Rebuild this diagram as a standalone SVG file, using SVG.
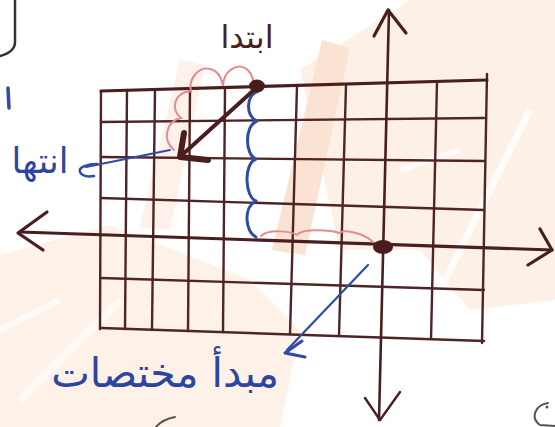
<svg xmlns="http://www.w3.org/2000/svg" width="555" height="427" viewBox="0 0 555 427">
<style>
.g{stroke:#4e2424;stroke-width:2.4;fill:none;stroke-linecap:round}
.ax{stroke:#4a1e1e;stroke-width:3.2;fill:none;stroke-linecap:round;stroke-linejoin:round}
.bl{stroke:#2f4ba8;stroke-width:2.6;fill:none;stroke-linecap:round;stroke-linejoin:round}
.pk{stroke:#e28c92;stroke-width:2;fill:none;stroke-linecap:round}
.tb{font-family:"DejaVu Sans",sans-serif;fill:#2c45a0}
.tk{font-family:"DejaVu Sans",sans-serif;fill:#4a2020}
</style>
<rect width="555" height="427" fill="#ffffff"/>
<g id="watermark">
<polygon points="300,70 410,0 555,0 555,300 470,310 420,250 340,250" fill="#fdf0e6"/>
<polygon points="0,255 110,225 250,280 300,330 280,427 0,427" fill="#fdf1e8"/>
<polygon points="322,40 350,48 305,255 272,250" fill="#fae3d2"/>
<polygon points="180,60 205,65 170,230 140,228" fill="#fcebdf" opacity="0.7"/>
<line x1="440" y1="290" x2="530" y2="110" stroke="#ffffff" stroke-width="7" opacity="0.8"/>
<line x1="400" y1="170" x2="460" y2="150" stroke="#ffffff" stroke-width="6" opacity="0.8"/>
<line x1="20" y1="400" x2="120" y2="300" stroke="#ffffff" stroke-width="7" opacity="0.7"/>
<line x1="0" y1="330" x2="60" y2="300" stroke="#ffffff" stroke-width="6" opacity="0.7"/>
</g>
<g id="grid">
<path class="g" d="M101,122 L484,118 M101,157 L484,161 M101,198 L484,210 M101,278 L484,290 M101,328 L484,341"/>
<path class="g" d="M101,91 L100,329 M127,90 L125,329 M155,89 L152,330 M190,89 L188,331 M225,88 L223,332 M297,86 L290,334 M346,85 L339,336 M437,82 L431,339 M487,74 L482,343"/>
<path class="ax" d="M101,91 L487,80"/>
</g>
<g id="axes">
<path class="ax" d="M20,232 L552,250"/>
<path class="ax" d="M47,212 L18,233 L43,250"/>
<path class="ax" d="M540,229 L552,250 L528,265"/>
<path class="ax" d="M389,10 L379,420" style="stroke-width:2.6"/>
<path class="ax" d="M374,36 L388,10 L406,33"/>
<path class="ax" d="M365,398 L380,420 L400,392" style="stroke-width:2.4"/>
</g>
<g id="connectors">
<path class="pk" d="M174,150 C162,140 166,121 181,118 C170,110 174,92 191,91 C188,80 198,66 210,69 C219,71 222,80 223,86 C223,72 236,63 245,68 C251,71 253,78 254,84"/>
<path class="pk" d="M261,236 C268,229 290,231 297,235 C302,228 332,230 339,233 C346,228 366,235 373,242"/>
<path class="bl" d="M258,91 C245,96 246,117 257,121 C244,126 245,155 256,159 C243,164 245,197 256,201 C243,207 245,232 256,237" style="stroke-width:3"/>
<path class="ax" d="M255,89 L182,155" style="stroke-width:4"/>
<path class="ax" d="M184,133 L180,157 L208,160" style="stroke-width:6"/>
<path class="bl" d="M170,150 L86,167" style="stroke-width:2"/>
<path class="bl" d="M97,164 C88,164 78,167 80,172 C82,176 88,177 94,176"/>
<path class="bl" d="M368,265 L287,350" style="stroke-width:2.2"/>
<path class="bl" d="M302,341 L285,353 L305,357" style="stroke-width:3"/>
</g>
<g id="start-point">
<ellipse cx="257" cy="86" rx="8" ry="6.5" fill="#4a1c1c"/>
<text class="tk" x="247" y="48" font-size="32" text-anchor="middle">ابتدا</text>
</g>
<g id="end-point">
<text class="tb" x="40" y="173" font-size="35" text-anchor="middle">انتها</text>
</g>
<g id="origin">
<ellipse cx="383" cy="247" rx="10" ry="7" fill="#4a1c1c"/>
<text class="tb" x="165" y="387" font-size="41" text-anchor="middle">مبدأ مختصات</text>
</g>
<g id="fragments">
<path class="ax" d="M15,0 L15,42 Q15,52 0,56" style="stroke:#3a3030;stroke-width:2.5"/>
<path class="bl" d="M8,88 L9,108" style="stroke-width:3.5"/>
<path class="bl" d="M548,403 C535,405 530,418 540,425 L555,426" style="stroke:#555;stroke-width:2"/>
<circle cx="547" cy="407" r="1.5" fill="#555"/>
<path class="bl" d="M156,427 Q163,419 175,417" style="stroke:#555;stroke-width:2"/>
</g>
</svg>
